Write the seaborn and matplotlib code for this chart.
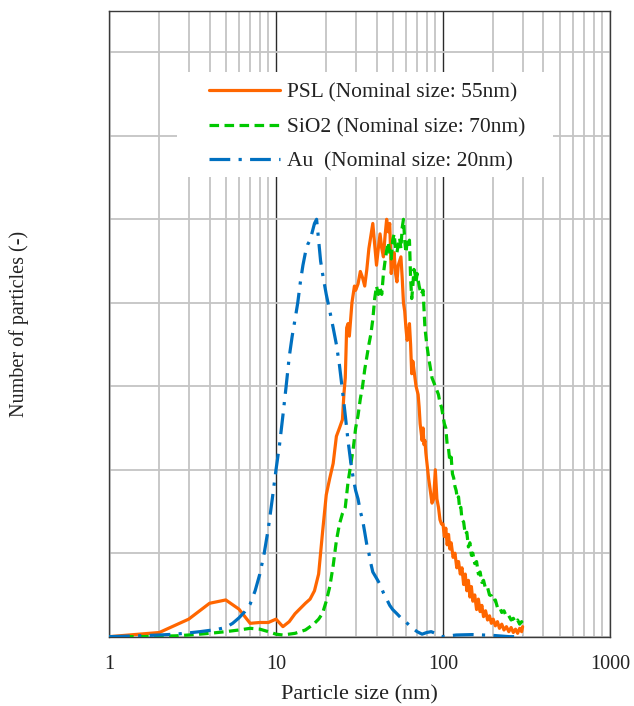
import numpy as np
import pandas as pd
import matplotlib
matplotlib.use("Agg")
import matplotlib.pyplot as plt
import seaborn as sns
from matplotlib.ticker import LogLocator, FixedLocator, FixedFormatter, NullFormatter
from matplotlib.patches import Rectangle

# ---------------- data ----------------
psl_size = [1, 2, 3, 4, 5, 6, 7, 8, 9, 10, 11, 12, 13, 14, 15, 16, 17, 18, 19, 20,
            21, 22, 23, 24, 25, 25.5, 26, 26.5, 27, 27.5, 28, 28.5, 29, 29.5, 30, 31, 32, 33, 34, 35,
            36, 37, 38, 39, 40, 41, 42, 43, 44, 45, 46, 47, 48, 49, 50, 51, 52, 53, 54, 55,
            56, 57, 58, 59, 60, 61, 62, 63, 64, 65, 66, 67, 68, 69, 70, 71, 72, 73, 74, 75,
            76, 77, 78, 79, 80, 82, 84, 86, 88, 90, 92, 94, 96, 98,
            100, 102, 104, 106, 108, 110, 112, 115, 118, 121, 124, 127, 130, 133, 136, 139,
            142, 145, 148, 151, 155, 159, 163, 167, 171, 175, 180, 185, 190, 195, 200, 206,
            212, 218, 225, 232, 240, 248, 256, 264, 272, 280, 288, 296, 300]
psl_count = [0.0, 0.01, 0.042, 0.08, 0.088, 0.066, 0.032, 0.034, 0.034, 0.042, 0.024, 0.036, 0.055, 0.068, 0.08, 0.09, 0.11, 0.15, 0.25, 0.34,
             0.38, 0.415, 0.48, 0.50, 0.52, 0.58, 0.62, 0.74, 0.75, 0.72, 0.76, 0.80, 0.82, 0.84, 0.83, 0.845, 0.875, 0.86, 0.84, 0.88,
             0.93, 0.96, 0.99, 0.94, 0.89, 0.93, 0.965, 0.93, 0.91, 0.96, 1.0, 0.97, 0.99, 0.87, 0.90, 0.92, 0.87, 0.85, 0.89, 0.90,
             0.91, 0.86, 0.80, 0.78, 0.74, 0.71, 0.72, 0.75, 0.70, 0.63, 0.66, 0.64, 0.62, 0.60, 0.59, 0.58, 0.55, 0.51, 0.49, 0.47,
             0.50, 0.46, 0.47, 0.44, 0.42, 0.38, 0.35, 0.32, 0.33, 0.40, 0.33, 0.31, 0.28, 0.27,
             0.27, 0.24, 0.26, 0.22, 0.245, 0.21, 0.225, 0.19, 0.20, 0.165, 0.18, 0.15, 0.165, 0.125, 0.15, 0.11,
             0.135, 0.095, 0.12, 0.085, 0.10, 0.065, 0.09, 0.06, 0.075, 0.048, 0.062, 0.04, 0.05, 0.032, 0.042, 0.026,
             0.036, 0.02, 0.03, 0.016, 0.024, 0.012, 0.022, 0.01, 0.018, 0.008, 0.02, 0.012, 0.024]

sio2_size = [1, 1.5, 2, 2.5, 3, 3.5, 4, 5, 6, 7, 8, 9, 10, 11, 12, 13, 14, 15, 16, 17, 18, 19, 20,
             21, 22, 23, 24, 25, 26, 27, 28, 29, 30, 31, 32, 33, 34, 35, 36, 37, 38, 39, 40,
             41, 42, 43, 44, 45, 46, 47, 48, 49, 50, 51, 52, 53, 54, 55, 56, 57, 58, 59, 60,
             61, 62, 63, 64, 65, 66, 67, 68, 69, 70, 72, 74, 76, 78, 80, 82, 84, 86, 88, 90,
             92, 94, 96, 98, 100, 102, 104, 106, 108, 110, 112, 114, 116, 118, 120, 122, 124, 126, 128, 130,
             133, 136, 139, 142, 145, 148, 151, 155, 159, 163, 167, 171, 175, 180, 185, 190, 195, 200,
             206, 212, 218, 225, 232, 240, 248, 256, 264, 272, 280, 288, 296, 300]
sio2_count = [0.0, 0.0, 0.001, 0.002, 0.004, 0.006, 0.008, 0.012, 0.016, 0.02, 0.018, 0.012, 0.006, 0.004, 0.006, 0.008, 0.012, 0.016, 0.024, 0.032, 0.042, 0.056, 0.085,
              0.12, 0.17, 0.23, 0.27, 0.295, 0.31, 0.37, 0.41, 0.45, 0.50, 0.53, 0.57, 0.60, 0.64, 0.67, 0.70, 0.725, 0.76, 0.81, 0.84,
              0.82, 0.835, 0.82, 0.87, 0.90, 0.925, 0.945, 0.92, 0.905, 0.95, 0.965, 0.93, 0.92, 0.94, 0.955, 0.93, 0.98, 1.0, 0.95, 0.92,
              0.945, 0.935, 0.95, 0.86, 0.81, 0.84, 0.88, 0.87, 0.85, 0.87, 0.84, 0.82, 0.83, 0.74, 0.70, 0.67, 0.645, 0.62, 0.61, 0.60,
              0.59, 0.58, 0.56, 0.55, 0.53, 0.51, 0.50, 0.46, 0.45, 0.42, 0.43, 0.39, 0.38, 0.36, 0.35, 0.33, 0.335, 0.305, 0.31, 0.28,
              0.275, 0.245, 0.25, 0.215, 0.225, 0.195, 0.20, 0.175, 0.18, 0.15, 0.155, 0.13, 0.135, 0.115, 0.118, 0.10, 0.098, 0.085,
              0.088, 0.07, 0.072, 0.058, 0.062, 0.048, 0.05, 0.04, 0.044, 0.034, 0.04, 0.03, 0.036, 0.03]

au_size = [1, 1.5, 2, 2.5, 3, 3.5, 4, 4.5, 5, 5.5, 6, 6.5, 7, 7.5, 8, 8.5, 9, 9.5, 10, 10.5,
           11, 11.5, 12, 12.5, 13, 13.5, 14, 14.5, 15, 15.5, 16, 16.5, 17, 17.5, 18, 18.5, 19, 20,
           21, 22, 23, 24, 25, 26, 27, 28, 29, 30, 31, 32, 33, 34, 35, 36, 37, 38, 40, 42, 44, 46,
           48, 50, 53, 56, 60, 65, 70, 75, 80, 85, 90, 95, 100, 120, 150, 200, 250, 300]
au_count = [0.0, 0.002, 0.004, 0.006, 0.009, 0.012, 0.015, 0.018, 0.022, 0.032, 0.045, 0.06, 0.078, 0.11, 0.15, 0.20, 0.26, 0.33, 0.40, 0.46,
            0.53, 0.60, 0.67, 0.72, 0.76, 0.80, 0.85, 0.89, 0.92, 0.94, 0.95, 0.97, 0.99, 1.0, 0.95, 0.90, 0.87, 0.82,
            0.78, 0.74, 0.70, 0.65, 0.59, 0.53, 0.47, 0.42, 0.38, 0.35, 0.33, 0.30, 0.28, 0.25, 0.22, 0.20, 0.175, 0.155, 0.14, 0.125, 0.105, 0.09,
            0.075, 0.065, 0.055, 0.045, 0.035, 0.022, 0.012, 0.006, 0.01, 0.012, 0.008, 0.002, 0.0, 0.004, 0.005, 0.003, 0.0, 0.0]

series_labels = ["PSL (Nominal size: 55nm)", "SiO2 (Nominal size: 70nm)", "Au  (Nominal size: 20nm)"]
x_ticks = [1, 10, 100, 1000]
x_tick_labels = ["1", "10", "100", "1000"]
y_grid = [0.0, 0.2, 0.4, 0.6, 0.8, 1.0, 1.2, 1.4]

# ---------------- style ----------------
sns.set_theme(style="white")
plt.rcParams["font.family"] = ["Liberation Serif", "DejaVu Serif"]

fig = plt.figure(figsize=(6.34, 7.06), dpi=100)
ax = fig.add_axes([0.172, 0.0982, 0.790, 0.8868])
ax.set_axisbelow(True)

df_psl = pd.DataFrame({"size": psl_size, "count": psl_count})
df_sio2 = pd.DataFrame({"size": sio2_size, "count": sio2_count})
df_au = pd.DataFrame({"size": au_size, "count": au_count})

lw = 2.3
sns.lineplot(data=df_psl, x="size", y="count", ax=ax, color="#FF6600", lw=lw,
             estimator=None, sort=False, label=series_labels[0], zorder=3)
sns.lineplot(data=df_sio2, x="size", y="count", ax=ax, color="#00C800", lw=lw,
             linestyle=(0, (3.0, 1.7)), estimator=None, sort=False, label=series_labels[1], zorder=3)
sns.lineplot(data=df_au, x="size", y="count", ax=ax, color="#0070C0", lw=lw,
             linestyle=(0, (6.5, 2.6, 1.0, 2.6)), estimator=None, sort=False, label=series_labels[2], zorder=3)

ax.set_xscale("log")
ax.set_xlim(1, 1000)
ax.set_ylim(0, 1.5)
ax.xaxis.set_major_locator(FixedLocator(x_ticks))
ax.xaxis.set_major_formatter(FixedFormatter(x_tick_labels))
ax.xaxis.set_minor_locator(LogLocator(base=10, subs=np.arange(2, 10)))
ax.xaxis.set_minor_formatter(NullFormatter())
ax.yaxis.set_major_locator(FixedLocator(y_grid))
ax.set_yticklabels([])

ax.grid(which="minor", axis="x", color="#c4c4c4", lw=1.3)
ax.grid(which="major", axis="x", color="#2a2a2a", lw=1.0)
ax.grid(which="major", axis="y", color="#c4c4c4", lw=1.3)

ax.tick_params(axis="both", which="both", length=0)
ax.tick_params(axis="x", pad=13, labelsize=14.5, labelcolor="#222222")

for s in ax.spines.values():
    s.set_color("#3a3a3a")
    s.set_linewidth(1.0)
    s.set_visible(True)

ax.set_xlabel("Particle size (nm)", fontsize=16, color="#222222")
ax.xaxis.set_label_coords(0.5, -0.078)
ax.set_ylabel("Number of particles (-)", fontsize=14.5, color="#222222")
ax.yaxis.set_label_coords(-0.16, 0.5)

# white legend backdrop
ax.add_patch(Rectangle((0.136, 0.734), 0.750, 0.168, transform=ax.transAxes,
                       facecolor="white", edgecolor="none", zorder=1.5))

leg = ax.legend(loc="upper left", bbox_to_anchor=(198.5 / 634, 1 - 72 / 706),
                bbox_transform=fig.transFigure, frameon=False, borderpad=0,
                handlelength=3.3, handletextpad=0.3, labelspacing=0.67,
                fontsize=15.5)
for t in leg.get_texts():
    t.set_color("#222222")

fig.savefig("out.png", dpi=100)
